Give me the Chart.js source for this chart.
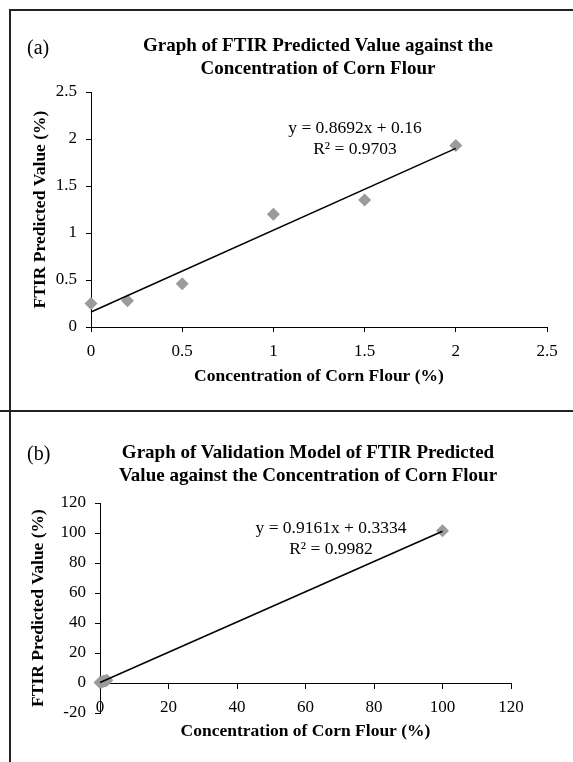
<!DOCTYPE html>
<html>
<head>
<meta charset="utf-8">
<script src="https://cdn.jsdelivr.net/npm/chart.js@4.4.1/dist/chart.umd.min.js"></script>
<style>
  html, body { margin: 0; padding: 0; background: #fff; }
  body { width: 573px; height: 762px; position: relative; overflow: hidden; font-family: "Liberation Serif", "Times New Roman", serif; color: #000; }
  .abs { position: absolute; }
  .title { font-weight: bold; font-size: 19px; line-height: 23px; text-align: center; white-space: nowrap; transform: translateX(-50%); }
  .tag { font-size: 20px; line-height: 24px; }
  .eq { font-size: 17.5px; line-height: 20.5px; text-align: center; white-space: nowrap; transform: translateX(-50%); }
  .line { background: #222; }
</style>
</head>
<body>
<div class="abs" style="left:0;top:0;width:573px;height:410px;"><canvas id="ca" width="573" height="410"></canvas></div>
<div class="abs" style="left:0;top:411px;width:573px;height:351px;"><canvas id="cb" width="573" height="351"></canvas></div>

<div class="abs line" style="left:9px;top:9px;width:564px;height:1.5px;"></div>
<div class="abs line" style="left:9px;top:9px;width:1.5px;height:753px;"></div>
<div class="abs line" style="left:0px;top:410px;width:573px;height:2px;"></div>

<div class="abs tag" style="left:27px;top:35px;">(a)</div>
<div class="abs title" style="left:318px;top:33px;">Graph of FTIR Predicted Value against the<br>Concentration of Corn Flour</div>
<div class="abs eq" style="left:355px;top:117px;">y = 0.8692x + 0.16<br>R² = 0.9703</div>

<div class="abs tag" style="left:27px;top:441px;">(b)</div>
<div class="abs title" style="left:308px;top:440px;">Graph of Validation Model of FTIR Predicted<br>Value against the Concentration of Corn Flour</div>
<div class="abs eq" style="left:331px;top:517px;">y = 0.9161x + 0.3334<br>R² = 0.9982</div>

<script>
// ---- Data: panel (a) ----
const concA = [0, 0.2, 0.5, 1, 1.5, 2];
const predA = [0.25, 0.28, 0.46, 1.20, 1.35, 1.93];
const trendXA = [0, 2];
const trendYA = [0.16, 1.90];
const xTicksA = [0, 0.5, 1, 1.5, 2, 2.5];
const yTicksA = [0, 0.5, 1, 1.5, 2, 2.5];

// ---- Data: panel (b) ----
const concB = [0, 0.5, 1, 1.5, 2, 100];
const predB = [0.3, 0.5, 1.2, 1.4, 1.9, 101.5];
const trendXB = [0, 100];
const trendYB = [0.3, 101.2];
const xTicksB = [0, 20, 40, 60, 80, 100, 120];
const yTicksB = [-20, 0, 20, 40, 60, 80, 100, 120];

const xTitle = 'Concentration of Corn Flour (%)';
const yTitle = 'FTIR Predicted Value (%)';

const FAM = '"Liberation Serif", "Times New Roman", serif';
const MARK = '#9b9b9b';

function pts(xs, ys) { return xs.map((x, i) => ({x: x, y: ys[i]})); }

function axis(opts) {
  return {
    type: 'linear',
    min: opts.min, max: opts.max,
    position: opts.position,
    afterBuildTicks: s => { s.ticks = opts.ticks.map(v => ({value: v})); },
    afterFit: opts.afterFit,
    ticks: { color: '#000', font: { family: FAM, size: 17 }, padding: 9, callback: v => String(v) },
    grid: { drawOnChartArea: false, drawTicks: true, tickLength: 5, tickColor: '#000', tickWidth: 1 },
    border: { display: true, color: '#000', width: 1 },
    title: { display: true, text: opts.title, color: '#000', font: { family: FAM, size: 17.5, weight: 'bold' }, padding: opts.titlePad }
  };
}

function makeChart(id, xs, ys, tx, ty, cfg) {
  return new Chart(document.getElementById(id), {
    type: 'scatter',
    data: {
      datasets: [
        { type: 'line', data: pts(tx, ty), borderColor: '#000', borderWidth: 1.5, pointRadius: 0, fill: false, order: 0, clip: false },
        { data: pts(xs, ys), pointStyle: 'rectRot', pointRadius: 6.5, backgroundColor: MARK, borderColor: MARK, borderWidth: 0, order: 1, clip: false }
      ]
    },
    options: {
      responsive: false,
      animation: false,
      devicePixelRatio: 1,
      layout: { padding: cfg.padding },
      plugins: { legend: { display: false }, tooltip: { enabled: false }, title: { display: false } },
      scales: { x: cfg.x, y: cfg.y }
    }
  });
}

makeChart('ca', concA, predA, trendXA, trendYA, {
  padding: { left: 0, right: 26, top: 92, bottom: 23 },
  x: axis({ min: 0, max: 2.5, ticks: xTicksA, title: xTitle, titlePad: { top: 4, bottom: 0 }, afterFit: s => { s.height = 60; } }),
  y: axis({ min: 0, max: 2.5, ticks: yTicksA, title: yTitle, titlePad: { top: 30, bottom: 4 }, afterFit: s => { s.width = 91; } })
});

makeChart('cb', concB, predB, trendXB, trendYB, {
  padding: { left: 0, right: 62, top: 92, bottom: 49 },
  x: axis({ min: 0, max: 120, position: { y: 0 }, ticks: xTicksB, title: xTitle, titlePad: { top: 4, bottom: 3 }, afterFit: s => { s.height = 62; } }),
  y: axis({ min: -20, max: 120, ticks: yTicksB, title: yTitle, titlePad: { top: 28, bottom: 4 }, afterFit: s => { s.width = 100; } })
});
</script>
</body>
</html>
